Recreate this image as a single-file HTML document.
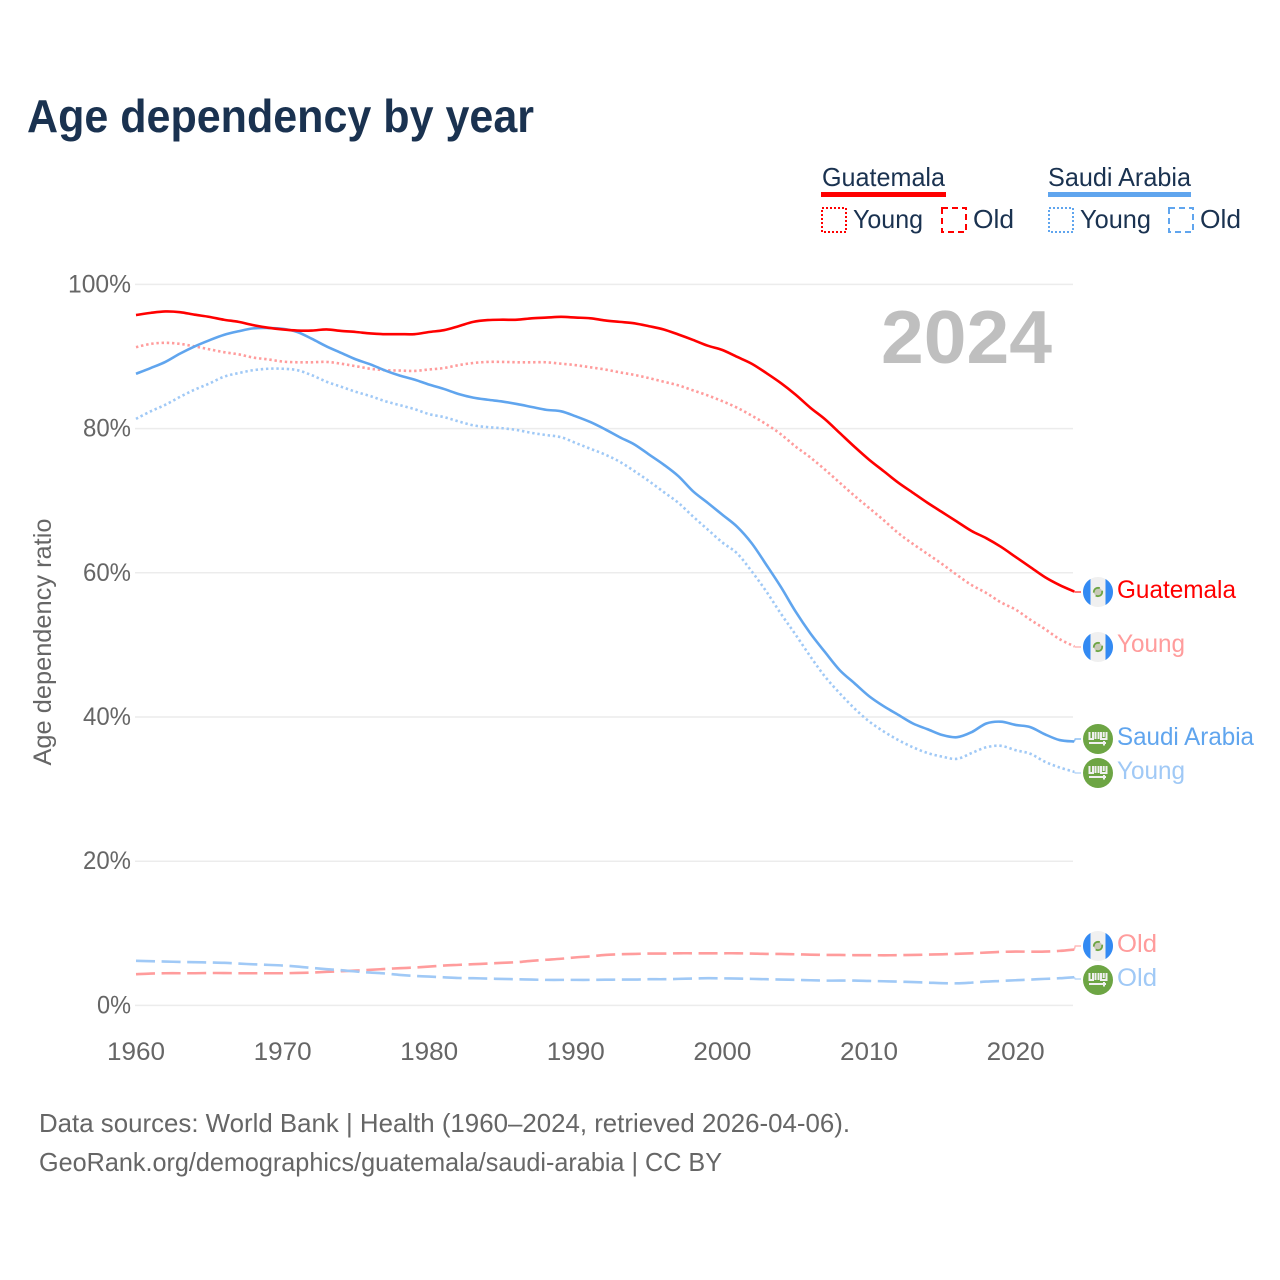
<!DOCTYPE html>
<html lang="en">
<head>
<meta charset="utf-8">
<title>Age dependency by year</title>
<style>
html,body{margin:0;padding:0;background:#fff;}
svg{display:block;font-family:"Liberation Sans",sans-serif;}
</style>
</head>
<body>
<svg id="chart" width="1280" height="1280" viewBox="0 0 1280 1280" xmlns="http://www.w3.org/2000/svg">
  <rect width="1280" height="1280" fill="#fff"/>
  <text x="27" y="132" font-size="46" font-weight="700" fill="#1a3250" textLength="507" lengthAdjust="spacingAndGlyphs">Age dependency by year</text>

  <g font-size="26" fill="#1a3250">
    <text x="822" y="186" textLength="123" lengthAdjust="spacingAndGlyphs">Guatemala</text>
    <rect x="821" y="192" width="125" height="5" fill="#ff0000"/>
    <rect x="822" y="208" width="24" height="24" fill="none" stroke="#ff0000" stroke-width="2" stroke-dasharray="2 2"/>
    <text x="853" y="228" textLength="70" lengthAdjust="spacingAndGlyphs">Young</text>
    <rect x="942" y="208" width="24" height="24" fill="none" stroke="#ff0000" stroke-width="2" stroke-dasharray="6 4"/>
    <text x="973" y="228" textLength="41" lengthAdjust="spacingAndGlyphs">Old</text>
    <text x="1048" y="186" textLength="143" lengthAdjust="spacingAndGlyphs">Saudi Arabia</text>
    <rect x="1048" y="192" width="143" height="5" fill="#60a5ee"/>
    <rect x="1049" y="208" width="24" height="24" fill="none" stroke="#60a5ee" stroke-width="2" stroke-dasharray="2 2"/>
    <text x="1080" y="228" textLength="71" lengthAdjust="spacingAndGlyphs">Young</text>
    <rect x="1169" y="208" width="24" height="24" fill="none" stroke="#60a5ee" stroke-width="2" stroke-dasharray="6 4"/>
    <text x="1200" y="228" textLength="41" lengthAdjust="spacingAndGlyphs">Old</text>
  </g>

  <g id="grid"></g>
  <g id="yticks" font-size="25" fill="#666" text-anchor="end"></g>
  <g id="xticks" font-size="25" fill="#666"></g>
  <text transform="translate(51,642) rotate(-90)" font-size="25" fill="#666" text-anchor="middle" textLength="247" lengthAdjust="spacingAndGlyphs">Age dependency ratio</text>
  <text x="881" y="363" font-size="75" font-weight="700" fill="#bfbfbf" textLength="171" lengthAdjust="spacingAndGlyphs">2024</text>

  <g id="lines" fill="none"></g>

  <g transform="translate(1098,592)">
    <circle r="15" fill="#f0f0f0"/><path d="M-7.5,-13 A15,15 0 0 0 -7.5,13 Z M7.5,-13 A15,15 0 0 1 7.5,13 Z" fill="#338af3"/>
    <circle r="4.2" fill="#c9c9b8" stroke="#6da544" stroke-width="1.8" stroke-dasharray="9 3.5"/>
  </g>
  <g transform="translate(1098,647)">
    <circle r="15" fill="#f0f0f0"/><path d="M-7.5,-13 A15,15 0 0 0 -7.5,13 Z M7.5,-13 A15,15 0 0 1 7.5,13 Z" fill="#338af3"/>
    <circle r="4.2" fill="#c9c9b8" stroke="#6da544" stroke-width="1.8" stroke-dasharray="9 3.5"/>
  </g>
  <g transform="translate(1098,946)">
    <circle r="15" fill="#f0f0f0"/><path d="M-7.5,-13 A15,15 0 0 0 -7.5,13 Z M7.5,-13 A15,15 0 0 1 7.5,13 Z" fill="#338af3"/>
    <circle r="4.2" fill="#c9c9b8" stroke="#6da544" stroke-width="1.8" stroke-dasharray="9 3.5"/>
  </g>
  <g transform="translate(1098,739)">
    <circle r="15" fill="#6da544"/>
    <path d="M-8.5,-7 V0 H-5 V-7 M-2.5,-7 V0 M0.5,-7 V0 M3,-7 V0 H8.5 V-7 M5.7,-7 V-2 M-9,4 H8 M6,2 V6.5" fill="none" stroke="#f0f0f0" stroke-width="2"/>
  </g>
  <g transform="translate(1098,773)">
    <circle r="15" fill="#6da544"/>
    <path d="M-8.5,-7 V0 H-5 V-7 M-2.5,-7 V0 M0.5,-7 V0 M3,-7 V0 H8.5 V-7 M5.7,-7 V-2 M-9,4 H8 M6,2 V6.5" fill="none" stroke="#f0f0f0" stroke-width="2"/>
  </g>
  <g transform="translate(1098,980)">
    <circle r="15" fill="#6da544"/>
    <path d="M-8.5,-7 V0 H-5 V-7 M-2.5,-7 V0 M0.5,-7 V0 M3,-7 V0 H8.5 V-7 M5.7,-7 V-2 M-9,4 H8 M6,2 V6.5" fill="none" stroke="#f0f0f0" stroke-width="2"/>
  </g>

  <g font-size="25">
    <text x="1117" y="598" fill="#ff0000" textLength="119" lengthAdjust="spacingAndGlyphs">Guatemala</text>
    <text x="1117" y="652" fill="#ff9c9c" textLength="68" lengthAdjust="spacingAndGlyphs">Young</text>
    <text x="1117" y="745" fill="#60a5ee" textLength="137" lengthAdjust="spacingAndGlyphs">Saudi Arabia</text>
    <text x="1117" y="779" fill="#a0c9f6" textLength="68" lengthAdjust="spacingAndGlyphs">Young</text>
    <text x="1117" y="952" fill="#ff9c9c" textLength="40" lengthAdjust="spacingAndGlyphs">Old</text>
    <text x="1117" y="986" fill="#a0c9f6" textLength="40" lengthAdjust="spacingAndGlyphs">Old</text>
  </g>

  <g font-size="26" fill="#666">
    <text x="39" y="1132" textLength="811" lengthAdjust="spacingAndGlyphs">Data sources: World Bank | Health (1960–2024, retrieved 2026-04-06).</text>
    <text x="39" y="1171" textLength="683" lengthAdjust="spacingAndGlyphs">GeoRank.org/demographics/guatemala/saudi-arabia | CC BY</text>
  </g>
</svg>
<script>
const firstYear = 1960;
const xTickLabels = ["1960","1970","1980","1990","2000","2010","2020"];
const yTickValues = [0,20,40,60,80,100];
const guatemalaTotal = [95.75,96.05,96.25,96.15,95.8,95.5,95.1,94.8,94.35,94.0,93.75,93.6,93.6,93.75,93.55,93.4,93.2,93.1,93.1,93.1,93.4,93.65,94.2,94.8,95.05,95.1,95.1,95.3,95.4,95.5,95.4,95.3,95.0,94.8,94.6,94.2,93.75,93.05,92.3,91.5,90.9,89.95,89.0,87.7,86.3,84.7,82.9,81.3,79.4,77.5,75.7,74.1,72.5,71.1,69.7,68.4,67.1,65.8,64.8,63.6,62.2,60.8,59.4,58.3,57.4];
const guatemalaYoung = [91.3,91.75,91.9,91.75,91.4,91.0,90.6,90.3,89.85,89.6,89.3,89.2,89.2,89.25,89.0,88.65,88.3,88.1,88.05,88.0,88.2,88.4,88.8,89.1,89.25,89.25,89.2,89.2,89.2,89.0,88.8,88.5,88.2,87.8,87.45,87.0,86.5,86.0,85.3,84.6,83.8,82.9,81.8,80.6,79.2,77.5,76.0,74.3,72.5,70.7,69.0,67.3,65.5,64.0,62.6,61.2,59.7,58.3,57.2,55.9,54.9,53.5,52.2,50.8,49.8];
const guatemalaOld = [4.33,4.42,4.46,4.46,4.46,4.49,4.49,4.46,4.46,4.46,4.46,4.5,4.55,4.65,4.74,4.83,4.93,5.06,5.16,5.25,5.39,5.53,5.62,5.71,5.8,5.9,6.0,6.19,6.33,6.47,6.66,6.8,7.0,7.09,7.14,7.19,7.19,7.23,7.23,7.23,7.23,7.23,7.19,7.14,7.14,7.09,7.04,7.0,7.0,6.97,6.97,6.95,6.97,7.0,7.04,7.09,7.16,7.23,7.33,7.42,7.47,7.45,7.47,7.56,7.75];
const saudiTotal = [87.6,88.4,89.25,90.4,91.4,92.25,93.0,93.5,93.9,93.95,93.85,93.4,92.45,91.4,90.5,89.6,88.9,88.05,87.35,86.8,86.1,85.5,84.8,84.3,84.0,83.75,83.4,83.0,82.6,82.4,81.7,80.9,79.9,78.8,77.8,76.4,75.0,73.4,71.3,69.7,68.05,66.4,64.1,61.1,58.0,54.6,51.6,49.0,46.5,44.7,42.9,41.5,40.3,39.1,38.3,37.5,37.2,37.9,39.1,39.35,38.9,38.6,37.6,36.8,36.6];
const saudiYoung = [81.35,82.4,83.3,84.4,85.4,86.25,87.2,87.7,88.1,88.3,88.3,88.1,87.4,86.5,85.8,85.1,84.5,83.8,83.25,82.7,82.0,81.6,81.0,80.45,80.2,80.05,79.8,79.4,79.1,78.8,78.0,77.2,76.4,75.4,74.1,72.7,71.2,69.7,67.8,66.0,64.2,62.7,60.2,57.4,54.3,51.4,48.4,45.6,43.3,41.2,39.4,38.0,36.8,35.8,35.0,34.5,34.2,35.0,35.8,36.0,35.4,34.9,33.8,33.0,32.4];
const saudiOld = [6.18,6.13,6.08,6.03,6.0,5.95,5.9,5.8,5.7,5.62,5.53,5.39,5.2,5.02,4.88,4.7,4.55,4.42,4.23,4.09,4.0,3.9,3.8,3.77,3.72,3.67,3.63,3.58,3.54,3.54,3.54,3.54,3.56,3.58,3.58,3.63,3.63,3.68,3.72,3.77,3.75,3.72,3.68,3.63,3.58,3.54,3.49,3.44,3.44,3.44,3.39,3.35,3.3,3.23,3.16,3.08,3.06,3.16,3.3,3.39,3.49,3.58,3.68,3.77,3.91];

const svgNS = "http://www.w3.org/2000/svg";
function xScale(year){ return 136 + (year - 1960) * 14.66; }
function yScale(value){ return 1005.4 - value * 7.21; }
function make(tag, parent){
  const el = document.createElementNS(svgNS, tag);
  parent.appendChild(el);
  return el;
}
const gridGroup = document.getElementById("grid");
const yTickGroup = document.getElementById("yticks");
const xTickGroup = document.getElementById("xticks");
const lineGroup = document.getElementById("lines");

yTickValues.forEach(function(v){
  const line = make("line", gridGroup);
  
  
  line.setAttribute("x1", 135);
  line.setAttribute("x2", 1073);
  line.setAttribute("y1", yScale(v));
  line.setAttribute("y2", yScale(v));
  line.setAttribute("stroke", "#ececec");
  line.setAttribute("stroke-width", 1.5);
  const t = make("text", yTickGroup);
  
  
  t.setAttribute("x", 131);
  t.setAttribute("y", yScale(v) + 8);
  t.setAttribute("textLength", String(v).length === 3 ? 63 : (String(v).length === 2 ? 48 : 34));
  t.setAttribute("lengthAdjust", "spacingAndGlyphs");
  t.textContent = v + "%";
});
xTickLabels.forEach(function(label){
  const t = make("text", xTickGroup);
  
  
  t.setAttribute("x", xScale(Number(label)) - 29);
  t.setAttribute("y", 1060);
  t.setAttribute("textLength", 58);
  t.setAttribute("lengthAdjust", "spacingAndGlyphs");
  t.textContent = label;
});

function linePath(values){
  const pts = values.map(function(v, i){
    return [xScale(firstYear + i), yScale(v)];
  });
  let d = "M" + pts[0][0].toFixed(2) + "," + pts[0][1].toFixed(2);
  for (let i = 0; i < pts.length - 1; i++) {
    const p0 = pts[Math.max(i - 1, 0)];
    const p1 = pts[i];
    const p2 = pts[i + 1];
    const p3 = pts[Math.min(i + 2, pts.length - 1)];
    const c1x = p1[0] + (p2[0] - p0[0]) / 6;
    const c1y = p1[1] + (p2[1] - p0[1]) / 6;
    const c2x = p2[0] - (p3[0] - p1[0]) / 6;
    const c2y = p2[1] - (p3[1] - p1[1]) / 6;
    d += " C" + c1x.toFixed(2) + "," + c1y.toFixed(2) + " " + c2x.toFixed(2) + "," + c2y.toFixed(2) + " " + p2[0].toFixed(2) + "," + p2[1].toFixed(2);
  }
  return d;
}
function leaderPath(values, labelY){
  const lastX = xScale(firstYear + values.length - 1);
  const lastY = yScale(values[values.length - 1]);
  return "M" + lastX.toFixed(2) + "," + lastY.toFixed(2) + " L" + (lastX + 1).toFixed(2) + "," + labelY + " L1081," + labelY;
}
function drawSeries(name, values, color, dash, labelY){
  const p = make("path", lineGroup);
  
  
  p.setAttribute("d", linePath(values));
  p.setAttribute("stroke", color);
  p.setAttribute("stroke-width", 2.6);
  p.setAttribute("stroke-linejoin", "round");
  if (dash) p.setAttribute("stroke-dasharray", dash);
  const l = make("path", lineGroup);
  
  
  l.setAttribute("d", leaderPath(values, labelY));
  l.setAttribute("stroke", color);
  l.setAttribute("stroke-width", 1.5);
  l.setAttribute("opacity", 0.7);
}
drawSeries("line-guatemala-old", guatemalaOld, "#ff9c9c", "19 6.6", 946);
drawSeries("line-saudi-old", saudiOld, "#a0c9f6", "19 6.6", 979);
drawSeries("line-guatemala-young", guatemalaYoung, "#ff9c9c", "2.4 2.8", 647);
drawSeries("line-saudi-young", saudiYoung, "#a0c9f6", "2.4 2.8", 773);
drawSeries("line-saudi-total", saudiTotal, "#60a5ee", "", 739);
drawSeries("line-guatemala-total", guatemalaTotal, "#ff0000", "", 592);
</script>
</body>
</html>
